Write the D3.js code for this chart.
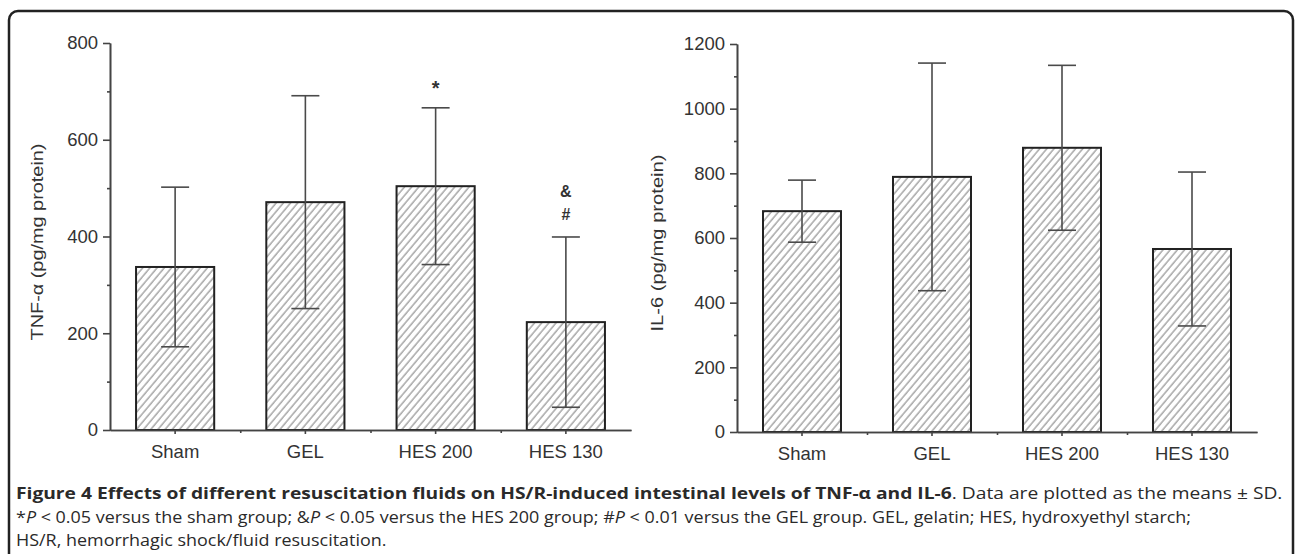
<!DOCTYPE html>
<html>
<head>
<meta charset="utf-8">
<script src="https://cdn.jsdelivr.net/npm/d3@7"></script>
<style>
body{margin:0;background:#fff}
svg{display:block}
</style>
</head>
<body>
<svg id="chart"></svg>
<script>
// values (means and SD)
var groups = ["Sham", "GEL", "HES 200", "HES 130"];
var tnfMean = [337, 471, 504, 223];
var tnfSD = [165, 220, 162, 176];
var il6Mean = [683, 789, 879, 566];
var il6SD = [96, 352, 255, 238];
var tnfTicks = [0, 200, 400, 600, 800];
var tnfMinor = [100, 300, 500, 700];
var il6Ticks = [0, 200, 400, 600, 800, 1000, 1200];
var il6Minor = [100, 300, 500, 700, 900, 1100];
// significance marks, bottom to top
var tnfMarks = [[], [], ["*"], ["#", "&"]];
var il6Marks = [[], [], [], []];

var W = 1295, H = 554;
var svg = d3.select("#chart").attr("width", W).attr("height", H);

var defs = svg.append("defs");
defs.append("pattern")
  .attr("id", "hatch")
  .attr("patternUnits", "userSpaceOnUse")
  .attr("width", 5.5)
  .attr("height", 10)
  .attr("patternTransform", "rotate(40)")
  .append("line")
  .attr("x1", 1).attr("y1", 0).attr("x2", 1).attr("y2", 10)
  .attr("stroke", "#7a7a7a")
  .attr("stroke-width", 1);

// frame round the figure (open at the bottom)
svg.append("rect")
  .attr("x", 9).attr("y", 11)
  .attr("width", 1284).attr("height", 640)
  .attr("rx", 9).attr("ry", 9)
  .attr("fill", "none")
  .attr("stroke", "#222")
  .attr("stroke-width", 2.5);

var panel = function(opt){
  var g = svg.append("g");
  var x = d3.scaleBand()
    .domain(groups)
    .range([opt.x0, opt.x1])
    .paddingInner(0.4)
    .paddingOuter(0.2);
  var xMinor = d3.scaleLinear().domain([0, groups.length]).range([opt.x0, opt.x1]);
  var y = d3.scaleLinear()
    .domain([0, opt.max])
    .range([opt.yBottom, opt.yTop]);

  // bars
  g.selectAll("rect.bar")
    .data(opt.mean)
    .enter()
    .append("rect")
    .attr("class", "bar")
    .attr("x", function(d, i){ return x(groups[i]); })
    .attr("y", function(d){ return y(d); })
    .attr("width", x.bandwidth())
    .attr("height", function(d){ return y(0) - y(d); })
    .attr("fill", "url(#hatch)")
    .attr("stroke", "#222")
    .attr("stroke-width", 2);

  // error bars
  var cap = 14;
  var err = g.selectAll("g.err")
    .data(opt.mean)
    .enter()
    .append("g")
    .attr("class", "err")
    .attr("stroke", "#4a4a4a")
    .attr("stroke-width", 1.6);
  err.append("line")
    .attr("x1", function(d, i){ return x(groups[i]) + x.bandwidth()/2; })
    .attr("x2", function(d, i){ return x(groups[i]) + x.bandwidth()/2; })
    .attr("y1", function(d, i){ return y(d + opt.sd[i]); })
    .attr("y2", function(d, i){ return y(d - opt.sd[i]); });
  [1, -1].forEach(function(s){
    err.append("line")
      .attr("x1", function(d, i){ return x(groups[i]) + x.bandwidth()/2 - cap; })
      .attr("x2", function(d, i){ return x(groups[i]) + x.bandwidth()/2 + cap; })
      .attr("y1", function(d, i){ return y(d + s*opt.sd[i]); })
      .attr("y2", function(d, i){ return y(d + s*opt.sd[i]); });
  });

  // significance marks above the error bars
  opt.marks.forEach(function(list, i){
    list.forEach(function(m, k){
      g.append("text")
        .attr("x", x(groups[i]) + x.bandwidth()/2)
        .attr("y", y(opt.mean[i] + opt.sd[i]) - 22 - k*23)
        .attr("text-anchor", "middle")
        .attr("dominant-baseline", "central")
        .attr("font-family", "Liberation Sans, Arial, sans-serif")
        .attr("font-size", m == "*" ? 20 : 16)
        .attr("font-weight", "bold")
        .attr("fill", "#333")
        .attr("dy", m == "*" ? "0.12em" : 0)
        .text(m);
    });
  });

  // y axis
  var yAxis = d3.axisLeft(y).tickValues(opt.ticks).tickFormat(d3.format("d"))
    .tickSize(7).tickPadding(5).tickSizeOuter(0);
  g.append("g").attr("transform", "translate(" + opt.x0 + ",0)").call(yAxis);
  var yMin = d3.axisLeft(y).tickValues(opt.minor).tickSize(3).tickFormat("").tickSizeOuter(0);
  g.append("g").attr("transform", "translate(" + opt.x0 + ",0)").call(yMin);

  // x axis
  var xAxis = d3.axisBottom(x).tickSize(4).tickPadding(11).tickSizeOuter(0);
  g.append("g").attr("transform", "translate(0," + opt.yBottom + ")").call(xAxis);
  var xMin = d3.axisBottom(xMinor).tickValues([1, 2, 3]).tickSize(3).tickFormat("").tickSizeOuter(0);
  g.append("g").attr("transform", "translate(0," + opt.yBottom + ")").call(xMin);

  g.selectAll(".domain, .tick line").attr("stroke", "#444").attr("stroke-width", 1.6);
  g.selectAll(".tick text")
    .attr("font-family", "Liberation Sans, Arial, sans-serif")
    .attr("font-size", 18.5)
    .attr("fill", "#333");

  // axis title
  g.append("text")
    .attr("transform", "translate(" + opt.titleX + "," + opt.titleY + ") rotate(-90)")
    .attr("text-anchor", "middle")
    .attr("dominant-baseline", "central")
    .attr("font-family", "Liberation Sans, Arial, sans-serif")
    .attr("font-size", 16)
    .attr("fill", "#333")
    .attr("textLength", opt.titleLen)
    .attr("lengthAdjust", "spacingAndGlyphs")
    .text(opt.title);
};

panel({x0: 110, x1: 631, yTop: 43, yBottom: 430, max: 800,
  mean: tnfMean, sd: tnfSD, ticks: tnfTicks, minor: tnfMinor, marks: tnfMarks,
  title: "TNF-\u03b1 (pg/mg protein)", titleX: 37, titleY: 242, titleLen: 197});
panel({x0: 737, x1: 1257, yTop: 44, yBottom: 432, max: 1200,
  mean: il6Mean, sd: il6SD, ticks: il6Ticks, minor: il6Minor, marks: il6Marks,
  title: "IL-6 (pg/mg protein)", titleX: 657, titleY: 243, titleLen: 177});

// caption
var cap = svg.append("g")
  .attr("font-family", "Open Sans, Noto Sans, sans-serif")
  .attr("font-size", 16)
  .attr("fill", "#2a2a2a");

var capLine = function(y, parts, target, scale){
  var t = cap.append("text").attr("x", 0).attr("y", 0);
  parts.forEach(function(p){
    t.append("tspan")
      .attr("font-weight", p.b ? "bold" : null)
      .attr("font-style", p.i ? "italic" : null)
      .text(p.t);
  });
  var w = t.node().getComputedTextLength();
  var s = target ? target / w : scale;
  t.attr("transform", "translate(16," + y + ") scale(" + s + ",1)");
  return s;
};

capLine(499, [
  {t: "Figure 4 Effects of different resuscitation fluids on HS/R-induced intestinal levels of TNF-\u03b1 and IL-6", b: true},
  {t: ". Data are plotted as the means \u00b1 SD."}
], 1267);
var s2 = capLine(523, [
  {t: "*"}, {t: "P", i: true}, {t: " < 0.05 versus the sham group; &"}, {t: "P", i: true},
  {t: " < 0.05 versus the HES 200 group; #"}, {t: "P", i: true},
  {t: " < 0.01 versus the GEL group. GEL, gelatin; HES, hydroxyethyl starch;"}
], 1176);
capLine(546, [{t: "HS/R, hemorrhagic shock/fluid resuscitation."}], 0, s2);
</script>
</body>
</html>
